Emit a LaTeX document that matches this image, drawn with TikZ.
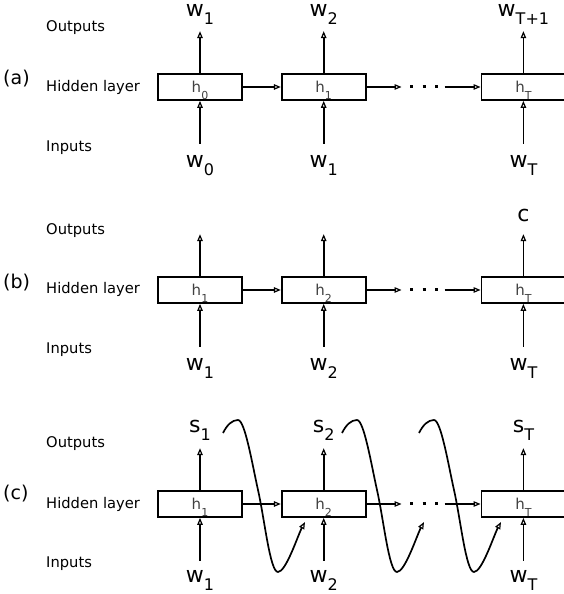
\documentclass[tikz,border=0pt]{standalone}
\usepackage{fontspec}
\setmainfont{DejaVu Sans}
\usepackage{tikz}
\usetikzlibrary{positioning, arrows.meta}
\newcommand{\sublbl}[2]{{\fontsize{22}{22}\selectfont #1}\raisebox{-8pt}{\fontsize{16}{16}\selectfont #2}}
\newcommand{\hlbl}[1]{h\raisebox{-7pt}{\fontsize{11}{11}\selectfont #1}}

\begin{document}
\begin{tikzpicture}[
    x=1pt, y=1pt,
    node distance=38pt,
    cell/.style={rectangle, draw, line width=1.7pt, minimum width=84pt, minimum height=26pt,
                 inner sep=0pt, text height=11pt, text depth=0pt,
                 font=\fontsize{15}{15}\selectfont, text=black!75},
    link/.style={line width=1.7pt, -{Triangle[open, length=7pt, width=5.5pt, line width=1.2pt]}},
    wave/.style={line width=1.7pt, -{Triangle[open, length=7pt, width=5.5pt, line width=1.2pt]}},
    dotrow/.style={line width=3pt, dash pattern=on 3pt off 9.5pt},
    side/.style={anchor=base west, inner sep=0pt, font=\fontsize{14.7}{14.7}\selectfont},
    tag/.style={anchor=base west, inner sep=0pt, font=\fontsize{19}{19}\selectfont},
    io/.style={anchor=base, inner sep=0pt},
  ]
    \useasboundingbox (0,0) rectangle (564,594);

    % (a)
    \node[tag] (taga) at (3,509) {(a)};
    \node[side] (outa) at (46,562) {Outputs};
    \node[side] (hida) at (46,502) {Hidden layer};
    \node[side] (ina) at (46,442) {Inputs};

    \node[cell] (ha1) at (200,507) {\hlbl{0}};
    \node[cell, right=of ha1] (ha2) {\hlbl{1}};
    \node[cell, right=114pt of ha2] (ha3) {\hlbl{T}};

    \coordinate (oa1) at ([yshift=42pt]ha1.north);
    \coordinate (oa2) at ([yshift=42pt]ha2.north);
    \coordinate (oa3) at ([yshift=42pt]ha3.north);
    \coordinate (ia1) at ([yshift=-43pt]ha1.south);
    \coordinate (ia2) at ([yshift=-43pt]ha2.south);
    \coordinate (ia3) at ([yshift=-43pt]ha3.south);
    \coordinate (da) at ([xshift=35pt]ha2.east);
    \coordinate (ea) at ([xshift=-36pt]ha3.west);

    \draw[link] (ha1.north) -- (oa1);
    \draw[link] (ha2.north) -- (oa2);
    \draw[link] (ha3.north) -- (oa3);
    \draw[link] (ia1) -- (ha1.south);
    \draw[link] (ia2) -- (ha2.south);
    \draw[link] (ia3) -- (ha3.south);
    \draw[link] (ha1) -- (ha2);
    \draw[link] (ha2) -- (da);
    \draw[dotrow] ([xshift=8.5pt]da) -- ([xshift=-5.5pt]ea);
    \draw[link] (ea) -- (ha3);

    \node[io] (wa1) at ([yshift=15pt]oa1) {\sublbl{w}{1}};
    \node[io] (wa2) at ([yshift=15pt]oa2) {\sublbl{w}{2}};
    \node[io] (wa3) at ([yshift=15pt]oa3) {\sublbl{w}{T+1}};
    \node[io] (xa1) at ([yshift=-24pt]ia1) {\sublbl{w}{0}};
    \node[io] (xa2) at ([yshift=-24pt]ia2) {\sublbl{w}{1}};
    \node[io] (xa3) at ([yshift=-24pt]ia3) {\sublbl{w}{T}};

    % (b)
    \node[tag] (tagb) at (3,305) {(b)};
    \node[side] (outb) at (46,359) {Outputs};
    \node[side] (hidb) at (46,300) {Hidden layer};
    \node[side] (inb) at (46,240) {Inputs};

    \node[cell] (hb1) at (200,304) {\hlbl{1}};
    \node[cell, right=of hb1] (hb2) {\hlbl{2}};
    \node[cell, right=114pt of hb2] (hb3) {\hlbl{T}};

    \coordinate (ob1) at ([yshift=42pt]hb1.north);
    \coordinate (ob2) at ([yshift=42pt]hb2.north);
    \coordinate (ob3) at ([yshift=42pt]hb3.north);
    \coordinate (ib1) at ([yshift=-43pt]hb1.south);
    \coordinate (ib2) at ([yshift=-43pt]hb2.south);
    \coordinate (ib3) at ([yshift=-43pt]hb3.south);
    \coordinate (db) at ([xshift=35pt]hb2.east);
    \coordinate (eb) at ([xshift=-36pt]hb3.west);

    \draw[link] (hb1.north) -- (ob1);
    \draw[link] (hb2.north) -- (ob2);
    \draw[link] (hb3.north) -- (ob3);
    \draw[link] (ib1) -- (hb1.south);
    \draw[link] (ib2) -- (hb2.south);
    \draw[link] (ib3) -- (hb3.south);
    \draw[link] (hb1) -- (hb2);
    \draw[link] (hb2) -- (db);
    \draw[dotrow] ([xshift=8.5pt]db) -- ([xshift=-5.5pt]eb);
    \draw[link] (eb) -- (hb3);

    \node[io] (cb) at ([yshift=13pt]ob3) {\fontsize{22}{22}\selectfont c};
    \node[io] (xb1) at ([yshift=-24pt]ib1) {\sublbl{w}{1}};
    \node[io] (xb2) at ([yshift=-24pt]ib2) {\sublbl{w}{2}};
    \node[io] (xb3) at ([yshift=-24pt]ib3) {\sublbl{w}{T}};

    % (c)
    \node[tag] (tagc) at (3,94) {(c)};
    \node[side] (outc) at (46,146) {Outputs};
    \node[side] (hidc) at (46,85) {Hidden layer};
    \node[side] (inc) at (46,26) {Inputs};

    \node[cell] (hc1) at (200,90) {\hlbl{1}};
    \node[cell, right=of hc1] (hc2) {\hlbl{2}};
    \node[cell, right=114pt of hc2] (hc3) {\hlbl{T}};

    \coordinate (oc1) at ([yshift=42pt]hc1.north);
    \coordinate (oc2) at ([yshift=42pt]hc2.north);
    \coordinate (oc3) at ([yshift=42pt]hc3.north);
    \coordinate (ic1) at ([yshift=-43pt]hc1.south);
    \coordinate (ic2) at ([yshift=-43pt]hc2.south);
    \coordinate (ic3) at ([yshift=-43pt]hc3.south);
    \coordinate (dc) at ([xshift=35pt]hc2.east);
    \coordinate (ec) at ([xshift=-36pt]hc3.west);

    \draw[link] (hc1.north) -- (oc1);
    \draw[link] (hc2.north) -- (oc2);
    \draw[link] (hc3.north) -- (oc3);
    \draw[link] (ic1) -- (hc1.south);
    \draw[link] (ic2) -- (hc2.south);
    \draw[link] (ic3) -- (hc3.south);
    \draw[link] (hc1) -- (hc2);
    \draw[link] (hc2) -- (dc);
    \draw[dotrow] ([xshift=8.5pt]dc) -- ([xshift=-5.5pt]ec);
    \draw[link] (ec) -- (hc3);

    \node[io] (sc1) at ([yshift=16pt]oc1) {\sublbl{s}{1}};
    \node[io] (sc2) at ([yshift=16pt]oc2) {\sublbl{s}{2}};
    \node[io] (sc3) at ([yshift=16pt]oc3) {\sublbl{s}{T}};
    \node[io] (xc1) at ([yshift=-22pt]ic1) {\sublbl{w}{1}};
    \node[io] (xc2) at ([yshift=-22pt]ic2) {\sublbl{w}{2}};
    \node[io] (xc3) at ([yshift=-22pt]ic3) {\sublbl{w}{T}};

    % feedback from outputs
    \coordinate (fc1) at (223,161);
    \coordinate (fc2) at (342,161);
    \coordinate (fc3) at (419,161);
    \draw[wave, shift={(fc1)}] (0,0) .. controls (4,8) and (9,13) .. (15,13)
      .. controls (22,13) and (29.5,-32.6) .. (35,-57)
      .. controls (41.6,-86.3) and (47,-139) .. (55,-139)
      .. controls (63,-139) and (75,-102) .. (82,-89) coordinate (gc1);
    \draw[wave, shift={(fc2)}] (0,0) .. controls (4,8) and (9,13) .. (15,13)
      .. controls (22,13) and (29.5,-32.6) .. (35,-57)
      .. controls (41.6,-86.3) and (47,-139) .. (55,-139)
      .. controls (63,-139) and (75,-102) .. (82,-89) coordinate (gc2);
    \draw[wave, shift={(fc3)}] (0,0) .. controls (4,8) and (9,13) .. (15,13)
      .. controls (22,13) and (29.5,-32.6) .. (35,-57)
      .. controls (41.6,-86.3) and (47,-139) .. (55,-139)
      .. controls (63,-139) and (75,-102) .. (82,-89) coordinate (gc3);
  \end{tikzpicture}
\end{document}
